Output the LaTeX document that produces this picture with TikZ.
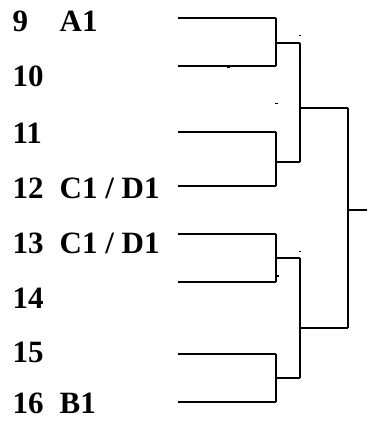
\documentclass[tikz,border=0pt]{standalone}
\usepackage{fontspec}
\setmainfont{Liberation Serif}
\begin{document}
\begin{tikzpicture}[x=1pt,y=-1pt,
  wire/.style={draw=black,line width=1.9pt,line cap=butt,line join=miter},
  speck/.style={draw=black,line width=1.3pt},
  lbl/.style={anchor=base west,inner sep=0pt,font=\bfseries\fontsize{31}{31}\selectfont}]
\useasboundingbox (0,0) rectangle (367,425);
% labels
\foreach \n/\b in {9/32,10/87,11/143,12/198,13/253,14/308,15/362,16/413}
  \node[lbl] (n\n) at (12.5,\b) {\n};
\node[lbl] (t9) at (59.5,32) {A1};
\node[lbl] (t12) at (59.5,198) {C1 / D1};
\node[lbl] (t13) at (59.5,253) {C1 / D1};
\node[lbl] (t16) at (59.5,413) {B1};
% entrant lines
\foreach \i/\y in {1/17.7,2/65.7,3/131.7,4/185.7,5/234,6/281.7,7/354,8/402.3}{
  \coordinate (a\i) at (178,\y);
  \coordinate (b\i) at (276,\y);
}
\foreach \i in {1,...,8} \draw[wire] (a\i) -- (b\i);
% first round brackets
\coordinate (m1) at (276,42.7);   \coordinate (q1) at (300,42.7);
\coordinate (m2) at (276,162.3);  \coordinate (q2) at (300,162.3);
\coordinate (m3) at (276,258.3);  \coordinate (q3) at (300,258.3);
\coordinate (m4) at (276,377.7);  \coordinate (q4) at (300,377.7);
\draw[wire] (b1) -- (b2);
\draw[wire] (b3) -- (b4);
\draw[wire] (b5) -- (b6);
\draw[wire] (b7) -- (b8);
\draw[wire] (m1) -- (q1);
\draw[wire] (m2) -- (q2);
\draw[wire] (m3) -- (q3);
\draw[wire] (m4) -- (q4);
% second round
\draw[wire] (q1) -- (q2);
\draw[wire] (q3) -- (q4);
\coordinate (s1) at (300,108.3); \coordinate (u1) at (347.7,108.3);
\coordinate (s2) at (300,328.3); \coordinate (u2) at (347.7,328.3);
\draw[wire] (s1) -- (u1);
\draw[wire] (s2) -- (u2);
\draw[wire] (u1) -- (u2);
% final
\coordinate (f0) at (347.7,210); \coordinate (f1) at (367,210);
\draw[wire] (f0) -- (f1);
% small specks
\foreach \x/\y in {300/35.7,300/60,276.7/103.3,228.3/67.7,204.3/132.3,300/251.7,277.5/276}
  \draw[speck] (\x-1.3,\y) -- (\x+1.3,\y);
\end{tikzpicture}
\end{document}
